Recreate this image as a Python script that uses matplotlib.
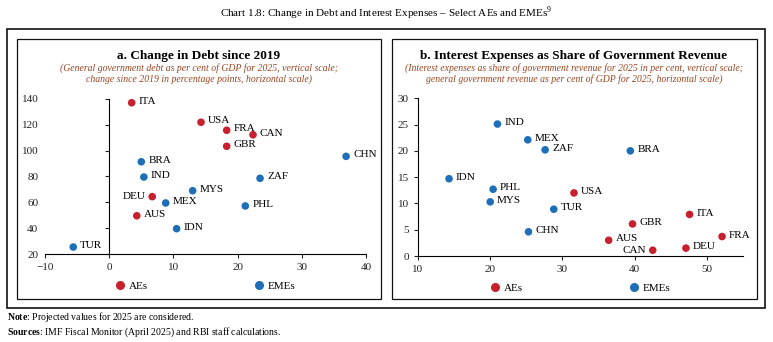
"""Chart 1.8: change in debt and interest expenses, select AEs and EMEs."""

import matplotlib.pyplot as plt
from matplotlib.lines import Line2D
from matplotlib.patches import Rectangle

plt.rcParams["font.family"] = ["Liberation Serif", "DejaVu Serif"]
plt.rcParams["mathtext.fontset"] = "custom"
plt.rcParams["mathtext.rm"] = "Liberation Serif"
plt.rcParams["mathtext.bf"] = "Liberation Serif:bold"

RED = "#c8202f"
BLUE = "#1f6fb8"
SUB = "#9a4520"

# panel a: change in debt since 2019 (pp) vs debt 2025 (% of GDP)
a_codes = ["ITA", "USA", "FRA", "CAN", "GBR", "DEU", "AUS",
           "CHN", "BRA", "IND", "ZAF", "MYS", "MEX", "PHL", "IDN", "TUR"]
a_group = ["AE", "AE", "AE", "AE", "AE", "AE", "AE",
           "EME", "EME", "EME", "EME", "EME", "EME", "EME", "EME", "EME"]
a_change = [3.5, 14.3, 18.3, 22.4, 18.3, 6.7, 4.3,
            36.9, 5.0, 5.4, 23.5, 13.0, 8.8, 21.2, 10.5, -5.6]
a_debt = [137.1, 122.0, 115.8, 112.3, 103.4, 64.4, 49.6,
          95.6, 91.4, 79.6, 78.6, 69.0, 59.5, 57.2, 39.6, 25.4]

# panel b: revenue (% of GDP) vs interest expenses (% of revenue)
b_codes = ["USA", "GBR", "ITA", "AUS", "FRA", "CAN", "DEU",
           "IND", "MEX", "ZAF", "BRA", "IDN", "PHL", "MYS", "TUR", "CHN"]
b_group = ["AE", "AE", "AE", "AE", "AE", "AE", "AE",
           "EME", "EME", "EME", "EME", "EME", "EME", "EME", "EME", "EME"]
b_revenue = [31.6, 39.7, 47.6, 36.4, 52.1, 42.5, 47.1,
             21.0, 25.2, 27.6, 39.4, 14.3, 20.4, 20.0, 28.8, 25.3]
b_interest = [12.0, 6.1, 7.9, 3.0, 3.7, 1.1, 1.5,
              25.1, 22.1, 20.2, 20.0, 14.7, 12.7, 10.3, 8.9, 4.6]

left_labels = {"a": ["DEU"], "b": ["CAN"]}


def scatter_panel(ax, codes, groups, xs, ys, flip):
    for code, grp, x, y in zip(codes, groups, xs, ys):
        color = RED if grp == "AE" else BLUE
        ax.scatter(x, y, s=30, color=color, edgecolor="none", zorder=3, clip_on=False)
        if code in flip:
            ax.annotate(code, (x, y), xytext=(-5, 0), textcoords="offset points",
                        ha="right", va="center", fontsize=8)
        else:
            ax.annotate(code, (x, y), xytext=(5, 1), textcoords="offset points",
                        ha="left", va="center", fontsize=8)
    handles = [Line2D([], [], marker="o", linestyle="none", color=RED, markersize=5.5, label="AEs"),
               Line2D([], [], marker="o", linestyle="none", color=BLUE, markersize=5.5, label="EMEs")]
    ax.legend(handles=handles, loc="upper center", bbox_to_anchor=(0.5, -0.11), ncol=2,
              frameon=False, fontsize=8, handlelength=0.8, handletextpad=0.4,
              columnspacing=9.6)
    for side in ("top", "right"):
        ax.spines[side].set_visible(False)
    ax.tick_params(labelsize=8, length=3, width=0.8, colors="#222222")


fig = plt.figure(figsize=(7.73, 3.42), dpi=100)

# frames
W, H = 773, 342
def frame(x0, y0, x1, y1, lw):
    fig.add_artist(Rectangle((x0 / W, 1 - y1 / H), (x1 - x0) / W, (y1 - y0) / H,
                             transform=fig.transFigure, fill=False, lw=lw, ec="#111111"))

frame(7, 29, 765, 308, 1.2)
frame(17, 39, 381, 299, 0.9)
frame(392, 39, 757, 299, 0.9)

fig.text(0.5, 1 - 13 / H, "Chart 1.8: Change in Debt and Interest Expenses \u2013 Select AEs and EMEs$^{9}$",
         ha="center", va="center", fontsize=8)

# panel a
ax1 = fig.add_axes([45 / W, 1 - 254 / H, 321 / W, 155 / H])
scatter_panel(ax1, a_codes, a_group, a_change, a_debt, left_labels["a"])
ax1.set_xlim(-10, 40)
ax1.set_ylim(20, 140)
ax1.set_xticks([-10, 0, 10, 20, 30, 40])
ax1.set_yticks([20, 40, 60, 80, 100, 120, 140])
ax1.spines["left"].set_position(("data", 0))
ax1.tick_params(axis="y", pad=48)
fig.text(199 / W, 1 - 56 / H, "a. Change in Debt since 2019", ha="center", va="center",
         fontsize=9.5, fontweight="bold")
fig.text(199 / W, 1 - 68 / H,
         "(General government debt as per cent of GDP for 2025, vertical scale;",
         ha="center", va="center", fontsize=7, style="italic", color=SUB)
fig.text(199 / W, 1 - 79 / H,
         "change since 2019 in percentage points, horizontal scale)",
         ha="center", va="center", fontsize=7, style="italic", color=SUB)

# panel b
ax2 = fig.add_axes([418 / W, 1 - 256 / H, 325 / W, 157.7 / H])
scatter_panel(ax2, b_codes, b_group, b_revenue, b_interest, left_labels["b"])
ax2.set_xlim(10, 55)
ax2.set_ylim(0, 30)
ax2.set_xticks([10, 20, 30, 40, 50])
ax2.set_yticks([0, 5, 10, 15, 20, 25, 30])
fig.text(574 / W, 1 - 56 / H, "b. Interest Expenses as Share of Government Revenue",
         ha="center", va="center", fontsize=9.5, fontweight="bold")
fig.text(574 / W, 1 - 68 / H,
         "(Interest expenses as share of government revenue for 2025 in per cent, vertical scale;",
         ha="center", va="center", fontsize=7, style="italic", color=SUB)
fig.text(574 / W, 1 - 79 / H,
         "general government revenue as per cent of GDP for 2025, horizontal scale)",
         ha="center", va="center", fontsize=7, style="italic", color=SUB)

fig.text(7 / W, 1 - 317 / H, r"$\bf{Note}$: Projected values for 2025 are considered.",
         ha="left", va="center", fontsize=7)
fig.text(7 / W, 1 - 332 / H,
         r"$\bf{Sources}$: IMF Fiscal Monitor (April 2025) and RBI staff calculations.",
         ha="left", va="center", fontsize=7)

fig.savefig("out.png", dpi=100)
